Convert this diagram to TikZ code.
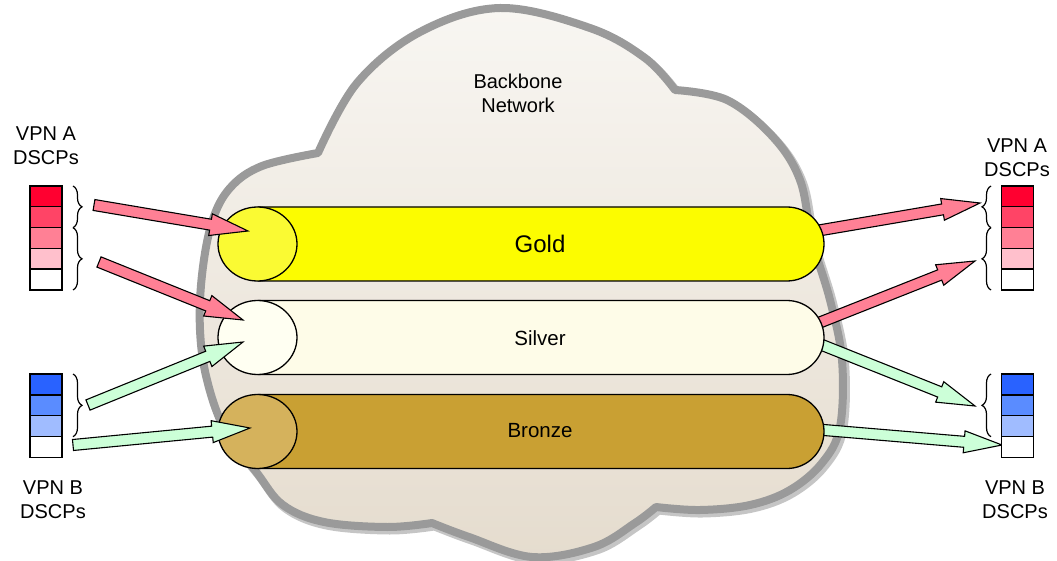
\documentclass[tikz,border=0pt]{standalone}
\usepackage{fontspec}
\setmainfont{Liberation Sans}
\usetikzlibrary{calc,decorations.pathreplacing}

\definecolor{cloudline}{HTML}{9A9A9A}
\definecolor{cloudtop}{HTML}{F8F6F2}
\definecolor{cloudbot}{HTML}{E5DCCE}
\definecolor{goldbody}{HTML}{FCFC00}
\definecolor{goldcap}{HTML}{FAFA33}
\definecolor{silverbody}{HTML}{FEFCE8}
\definecolor{silvercap}{HTML}{FFFFF2}
\definecolor{bronzebody}{HTML}{C9A033}
\definecolor{bronzecap}{HTML}{D5B25C}
\definecolor{pinkarrow}{HTML}{FF8095}
\definecolor{greenarrow}{HTML}{CCFFD8}
\definecolor{redA}{HTML}{FF0030}
\definecolor{redB}{HTML}{FF4466}
\definecolor{redC}{HTML}{FF8095}
\definecolor{redD}{HTML}{FFC0CC}
\definecolor{blueA}{HTML}{2962FF}
\definecolor{blueB}{HTML}{5A8CFF}
\definecolor{blueC}{HTML}{A0BCFF}

% block arrow from #1 to #2, filled with #3
\newcommand{\blockarrow}[3]{%
  \coordinate (ba-s) at (#1);
  \coordinate (ba-e) at (#2);
  \coordinate (ba-b) at ($(ba-e)!38pt!(ba-s)$);
  \draw[arrowline, fill=#3]
    ($(ba-s)!5.5pt!90:(ba-e)$) -- ($(ba-b)!5.5pt!-90:(ba-s)$)
    -- ($(ba-b)!11pt!-90:(ba-s)$) -- (ba-e)
    -- ($(ba-b)!11pt!90:(ba-s)$) -- ($(ba-b)!5.5pt!90:(ba-s)$)
    -- ($(ba-s)!5.5pt!-90:(ba-e)$) -- cycle;}

% horizontal tube: #1 centre y, #2 body colour, #3 end colour
\newcommand{\tube}[3]{%
  \draw[tubeline, fill=#2, rounded corners=37pt]
    (257.5,{#1-37}) -- (824,{#1-37}) -- (824,{#1+37}) -- (257.5,{#1+37});
  \draw[tubeline, fill=#3] (257.5,#1) ellipse[x radius=39.5, y radius=37];}

\begin{document}
\begin{tikzpicture}[x=1pt,y=-1pt,
  tubeline/.style={draw=black, line width=1.3pt},
  arrowline/.style={draw=black, line width=1.1pt, line join=miter},
  cell/.style={draw=black, line width=1.4pt, minimum width=32pt,
    minimum height=20.8pt, inner sep=0pt, outer sep=0pt},
  bracestyle/.style={decorate, draw=black, line width=1.2pt,
    decoration={brace, amplitude=9pt}},
  rbracestyle/.style={decorate, draw=black, line width=1.2pt,
    decoration={brace, amplitude=9pt, mirror}},
  lbl/.style={align=center, font=\fontsize{20}{24}\selectfont, inner sep=0pt},
  tubetxt/.style={font=\fontsize{20.5}{24}\selectfont, inner sep=0pt}]

\useasboundingbox (0,0) rectangle (1057,561);

% backbone cloud
\def\cloudpath{plot[smooth, tension=0.6] coordinates {(318,153) (357,83) (420,32) (500,8) (590,28) (645,58) (675,90)}
  -- plot[smooth, tension=0.6] coordinates {(675,90) (727,100) (773,137) (800,180) (812,240) (830,300) (842,360) (840,427) (822,463) (790,490) (750,505) (700,510) (656,507)}
  -- plot[smooth, tension=0.6] coordinates {(656,507) (635,523) (594,547) (532,557) (469,537) (432,523)}
  -- plot[smooth, tension=0.6] coordinates {(432,523) (387,527) (324,522) (283,505) (257,473) (225,430) (207,380) (200,330) (202,275) (212,222) (230,188) (262,166) (318,153)} -- cycle}
\draw[black!45, opacity=0.5, line width=9pt, line join=round, shift={(2.5,3)}] \cloudpath;
\draw[cloudline, line width=8pt, line join=round, top color=cloudtop, bottom color=cloudbot] \cloudpath;
\node[lbl] (backbone) at (518,93) {Backbone\\Network};

% outgoing arrows (tails hidden under the tubes)
\coordinate (gOut) at (810,232);
\coordinate (sOutA) at (811,326);
\coordinate (sOutB) at (812,341);
\coordinate (bOut) at (812,429);
\coordinate (rA1) at (980,203);
\coordinate (rA2) at (975,261);
\coordinate (rB1) at (975,406);
\coordinate (rB2) at (1002,445);
\blockarrow{gOut}{rA1}{pinkarrow}
\blockarrow{sOutA}{rA2}{pinkarrow}
\blockarrow{sOutB}{rB1}{greenarrow}
\blockarrow{bOut}{rB2}{greenarrow}

% tubes
\tube{244}{goldbody}{goldcap}
\tube{337.5}{silverbody}{silvercap}
\tube{431.5}{bronzebody}{bronzecap}
\node[tubetxt, font=\fontsize{24}{28}\selectfont] (gold) at (540,244) {Gold};
\node[tubetxt] (silver) at (540,338) {Silver};
\node[tubetxt] (bronze) at (540,431) {Bronze};

% incoming arrows
\coordinate (lA1) at (94,205);
\coordinate (lA2) at (99,262);
\coordinate (lB1) at (88,405);
\coordinate (lB2) at (73,445);
\coordinate (gIn) at (248,231);
\coordinate (sInA) at (243,320);
\coordinate (sInB) at (243,342);
\coordinate (bIn) at (250,428);
\blockarrow{lA1}{gIn}{pinkarrow}
\blockarrow{lA2}{sInA}{pinkarrow}
\blockarrow{lB1}{sInB}{greenarrow}
\blockarrow{lB2}{bIn}{greenarrow}

% VPN A code points, ingress
\node[cell, fill=redA] (la1) at (46,196.4) {};
\node[cell, fill=redB] (la2) at (46,217.2) {};
\node[cell, fill=redC] (la3) at (46,238.0) {};
\node[cell, fill=redD] (la4) at (46,258.8) {};
\node[cell, fill=white] (la5) at (46,279.6) {};
\draw[bracestyle] (73,186) -- (73,227.7);
\draw[bracestyle] (73,227.7) -- (73,290);
\node[lbl] (vpnAl) at (46,146) {VPN A\\DSCPs};

% VPN B code points, ingress
\node[cell, fill=blueA] (lb1) at (46,384.4) {};
\node[cell, fill=blueB] (lb2) at (46,405.2) {};
\node[cell, fill=blueC] (lb3) at (46,426.0) {};
\node[cell, fill=white] (lb4) at (46,446.9) {};
\draw[bracestyle] (73,374) -- (73,436.7);
\node[lbl] (vpnBl) at (53,500) {VPN B\\DSCPs};

% VPN A code points, egress
\node[cell, fill=redA] (ra1) at (1017.5,196.4) {};
\node[cell, fill=redB] (ra2) at (1017.5,217.2) {};
\node[cell, fill=redC] (ra3) at (1017.5,238.0) {};
\node[cell, fill=redD] (ra4) at (1017.5,258.8) {};
\node[cell, fill=white] (ra5) at (1017.5,279.6) {};
\draw[rbracestyle] (991,186) -- (991,227.7);
\draw[rbracestyle] (991,227.7) -- (991,290);
\node[lbl] (vpnAr) at (1017,158) {VPN A\\DSCPs};

% VPN B code points, egress
\node[cell, fill=blueA] (rb1) at (1017.5,384.4) {};
\node[cell, fill=blueB] (rb2) at (1017.5,405.2) {};
\node[cell, fill=blueC] (rb3) at (1017.5,426.0) {};
\node[cell, fill=white] (rb4) at (1017.5,446.9) {};
\draw[rbracestyle] (991,374) -- (991,436.7);
\node[lbl] (vpnBr) at (1015,500) {VPN B\\DSCPs};
\end{tikzpicture}
\end{document}
